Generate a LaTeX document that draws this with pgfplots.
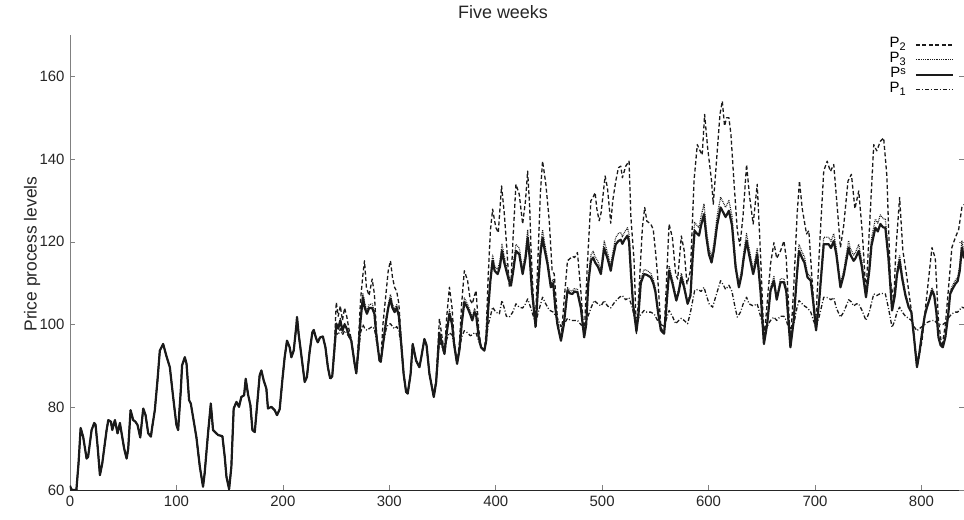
\documentclass[border=0pt]{standalone}
\usepackage{fontspec}
\setmainfont{Liberation Sans}
\usepackage{pgfplots}
\usepackage{pgfplotstable}
\pgfplotsset{compat=1.18}
\definecolor{lc}{HTML}{1A1A1A}
\definecolor{axgray}{HTML}{808080}
\newcommand{\lsub}[1]{\raisebox{-2.4bp}{\fontsize{11}{11}\selectfont #1}}
\newcommand{\lsup}[1]{\raisebox{3.3bp}{\fontsize{11}{11}\selectfont #1}}

% hours 0 .. 244.5: all four series coincide
\pgfplotstableread{
x y
0 61
1 60.3
2 60
6 60
8 66.4
10 75
12.4 72.8
15.6 67.6
17 68
20.3 74.5
22.8 76.2
24 75.8
26 70.4
28.1 63.6
30.3 66.4
32.1 70
34.4 74.5
36 76.9
38.5 76.5
39.7 74.5
42.2 76.9
44.7 73.7
46.9 76.2
48.5 73.7
50.9 70
53.2 67.6
54.7 70
56.9 79.3
59.4 76.9
61.5 76.5
63.5 75.7
66 72.7
68.8 79.7
71 78.1
73.5 73.7
76 72.9
77.3 75.3
79.7 79.3
82.2 86.5
84.4 93.7
87.5 95.3
90.7 92.3
93.8 89.7
96.9 82.5
100 75.7
101.6 74.5
104.1 84.1
105.3 90.1
107.9 92.1
109.5 90.5
111.9 81.7
113.5 80.9
115.7 77.5
118.8 72.7
122 65.6
125 60.8
126.5 64
129.7 73.7
132.3 80.9
134.4 74.5
139.1 73.3
143.2 73
145.4 68
147 63.2
149.5 60.2
151.6 65.6
153.8 79.7
156.4 81.3
158.8 80.1
161 82.5
163.6 82.9
165.1 86.9
167.3 83.1
169.5 80.5
171.4 74.5
173.6 74
175.8 80.5
178.2 87.7
179.8 88.9
182 86.5
184.5 84.5
186 79.7
189.2 80.1
192.3 79.3
194.5 78.1
197 79.5
199.5 86.5
201.7 92.1
203.9 96.1
206.4 94.5
208 92.1
210.2 93.7
212.7 99.8
213.3 101.8
214.8 97.8
217.6 92.1
220.5 86.1
222.6 87.3
225.1 93.3
227.7 98.1
229 98.7
231.2 96.7
232.8 95.7
235 96.9
237.6 97.1
240 94.5
242.3 89.7
244.5 86.9
}\common

% P^s from hour 244.5
\pgfplotstableread{
x y
244.5 86.9
246.4 87.5
248.6 94.5
250.2 100.2
252 99
254 101
256 98.5
258 100
260 99
262 97.5
264.3 96.1
267.4 90.6
269 88.2
271 94
273 101
275.2 106.6
277 104
279 102.6
281 104
283.9 104
286 102.6
288 97
290.8 91.3
292 91
294 95
297.1 101
299 104
301.1 106.2
303 104
305 103
307 104
309 102
311 96
313.5 88
315.8 83.7
317.3 83.3
320 88
322 95.3
325.2 91.3
328.3 89.7
330 92
333 96.5
335 95
337.7 88.1
341.8 82.5
344 86
347.1 97.8
349 96
351.8 92.9
354 98
356.5 102.6
359 100
361 95
363.7 90.5
366 94
368 100
370.5 105.4
373.6 104
376 102.5
378 101
380 103
381.5 102.5
384 97
386.2 94.5
389.3 93.7
391 96
393 104
395 110.6
397.1 115.4
399 113
401.8 112.2
404 114
405.9 117.8
408 115
410 113
412 111
414.3 109.4
416.5 113
419 117.8
422.1 117
425.3 112.2
428 116
430 121
432 116
434 108.2
437.5 99.5
440 110
442 117
444 121
446 118
448.7 114.6
451.8 109
454 110
456 104
458 100
461.3 96.1
464 100
467.4 108.2
470 107.5
472.1 107.4
474 108
476.8 107.8
480 104
483.1 96.9
485 100
487 110
489.4 115.4
491.5 116.2
493.4 115
496 114
498.8 112.2
501.9 118.5
505 116
508.1 113
510 116
512.8 119.4
515.3 120.2
517.5 120.5
519 119.5
521 120.5
523.8 121.5
525.3 120
526.9 113
529 105
532.2 98.4
534 102
536.3 110
539.4 112.2
542 112
545.7 111.4
548 110
550 108
552.5 103
555.2 98.6
558.2 97.8
560 103
562.9 113
566 110
569.7 105.8
572 108
574.4 111.4
577 109
580.3 105
583 107
585 116
586.9 122.7
589 122
591 121.5
593 124
595.7 126.7
598 121
600.3 117
602.8 115
605 118
608 124
611.3 128.3
614 127
616 126
619.1 127.5
622 124
625.4 113.8
628.5 109
631 112
633 116
635.7 120.2
638 117
641.9 112.2
643.5 114
645.7 117
648.8 108
652 95.3
655 100
658.2 108.2
661.4 110.6
664 106
667.6 110.2
670.8 110.2
673 108
676.9 94.5
680 101
683 112
685 117.8
688 116
690 115
693 111.4
696 110.6
698.5 105
701 98.6
704 106
708.2 119.4
712.9 119.4
715 118.5
717.6 120.2
720 117
723.9 109
727 112
731.6 118.6
733 117
736.3 115.4
738 116
741.1 117.8
744 114
747.9 106.6
751 113
753 119
756.7 123.4
759 122.5
761.4 124.3
764 123.5
766.1 123.4
769 116
772.4 103.4
775 107
777 112
779.5 115.4
782 111
785 107
788 104.2
790.5 103
793 97
795.8 89.7
798 93
800.5 97.8
803 102
805.2 104.2
807.5 106
809.9 108.2
812 107
814 103
816 96.9
818 95
820.1 94.5
822.5 97
825 102
827 107.4
829 108.5
831.8 109.8
834 110.5
836 113
838 118.6
840 116
}\ps

% P_3 from hour 244.5
\pgfplotstableread{
x y
244.5 86.9
246.4 87.5
248.6 94.5
250.2 100.5
252 99.2
254 101.5
256 98.7
258 100.4
260 99.3
262 97.6
264.3 96.1
267.4 90.6
269 88.2
271 94.2
273 101.6
275.2 107.6
277 105
279 103.3
281 104.8
283.9 105
286 103.3
288 97.3
290.8 91.3
292 91
294 95.3
297.1 101.7
299 104.8
301.1 107.3
303 104.9
305 103.7
307 104.8
309 102.6
311 96.2
313.5 88
315.8 83.7
317.3 83.3
320 88
322 95.3
325.2 91.3
328.3 89.7
330 92
333 96.5
335 95
337.7 88.1
341.8 82.5
344 86
347.1 98.3
349 96.3
351.8 92.9
354 98.4
356.5 103.6
359 100.5
361 95
363.7 90.5
366 94.2
368 100.6
370.5 106.4
373.6 104.9
376 103.2
378 101.6
380 103.8
381.5 103.2
384 97.2
386.2 94.5
389.3 93.7
391 96.2
393 104.6
395 111.6
397.1 116.8
399 114.2
401.8 113.3
404 115.3
405.9 119.4
408 116.4
410 114.2
412 112
414.3 110.3
416.5 114.2
419 119.4
422.1 118.5
425.3 113.3
428 117.4
430 122.9
432 117.4
434 108.9
437.5 99.5
440 110.9
442 118.5
444 122.9
446 119.6
448.7 115.9
451.8 109.8
454 110.9
456 104.4
458 100
461.3 96.1
464 100
467.4 108.9
470 108.2
472.1 108.1
474 108.7
476.8 108.5
480 104.4
483.1 96.9
485 100
487 110.9
489.4 116.8
491.5 117.7
493.4 116.4
496 115.3
498.8 113.3
501.9 120.2
505 117.4
508.1 114.2
510 117.4
512.8 121.1
515.3 122
517.5 122.3
519 121.2
521 122.3
523.8 123.4
525.3 121.8
526.9 114.2
529 105.5
532.2 98.4
534 102.2
536.3 110.9
539.4 113.3
542 113.1
545.7 112.4
548 110.9
550 108.7
552.5 103.3
555.2 98.6
558.2 97.8
560 103.3
562.9 114.2
566 110.9
569.7 106.3
572 108.7
574.4 112.4
577 109.8
580.3 105.5
583 107.6
585 117.4
586.9 124.7
589 124
591 123.4
593 126.2
595.7 129.1
598 122.9
600.3 118.5
602.8 116.4
605 119.6
608 126.2
611.3 130.8
614 129.4
616 128.3
619.1 130
622 126.2
625.4 115
628.5 109.8
631 113.1
633 117.4
635.7 122
638 118.5
641.9 113.3
643.5 115.3
645.7 118.5
648.8 108.7
652 95.3
655 100
658.2 108.9
661.4 111.6
664 106.5
667.6 111.1
670.8 111.1
673 108.7
676.9 94.5
680 101.1
683 113.1
685 119.4
688 117.4
690 116.4
693 112.4
696 111.5
698.5 105.5
701 98.6
704 106.5
708.2 121.1
712.9 121.1
715 120.1
717.6 122
720 118.5
723.9 109.8
727 113.1
731.6 120.3
733 118.5
736.3 116.8
738 117.4
741.1 119.4
744 115.3
747.9 107.2
751 114.2
753 120.7
756.7 125.5
759 124.5
761.4 126.5
764 125.6
766.1 125.5
769 117.4
772.4 103.7
775 107.6
777 113.1
779.5 116.8
782 112
785 107.6
788 104.6
790.5 103.3
793 97
795.8 89.7
798 93
800.5 97.8
803 102.2
805.2 104.6
807.5 106.5
809.9 108.9
812 107.6
814 103.3
816 96.9
818 95
820.1 94.5
822.5 97
825 102.2
827 108.1
829 109.3
831.8 110.7
834 111.4
836 114.2
838 120.3
840 117.4
}\pthree

% P_2 from hour 244.5
\pgfplotstableread{
x y
244.5 86.9
246.4 87.5
248.6 96
250.2 105.4
252 102
254 104.5
256 101
258 104
260 102
262 99
264.3 96.5
267.4 90.6
269 88.2
271 96
273 106
275.2 112
276.7 115.4
278.5 109
281 107
283.9 111
286 107.4
288 98
290.8 91.3
292 91
294 100
297.1 108
299 113
301.1 115.4
303 111.4
305 109
307 108
309 105
311 97
313.5 88
315.8 83.7
317.3 83.3
320 88
322 95.3
325.2 91.3
328.3 89.7
330 92
333 96.5
335 95
337.7 88.1
341.8 82.5
344 87
347.1 101.4
349 98
351.8 93
354 102
356.5 109
359 104
361 96
363.7 90.5
366 96
368 105
370.5 113
373.6 110.6
376 106
378 105
380 107
381.5 108.2
384 99
386.2 94.5
389.3 93.7
391 98
393 112
395 122.7
397.1 127.9
399 125
400.2 123.4
402.4 122.2
405.5 133.5
408 127
410 120
412.8 109
414.3 110
416.5 122
419 133.9
422.1 131.5
425.3 124.3
428 130
430 137.1
432 128
433.1 118.6
435 108
437.1 99.3
440 118
442 132
444 139.5
446 136
447.1 133.9
450.3 125.1
453 113
455 112.2
458.1 101
461.3 96.1
464 105
467.4 115.4
470 116
472.1 116.5
474 116.2
476.8 117.4
480 108
483.1 96.9
486 114
489.4 129.9
491.4 130.7
493.4 131.9
495 128
497.2 125.1
499 127
502.8 135.9
505 133
508.1 124.5
510 130
512.8 134.7
515.3 137.9
517.5 138.3
519 135.5
522.2 138.3
525.3 139.5
527 126
530 115.4
532.2 97.8
535 110
537.8 123.4
540 128.3
542 125
545.7 124.3
548 123
550 118
552 112.2
555.2 99.3
558.2 97.8
560 108
562.9 124.3
566 121
569.1 112.2
571 111
574.4 121.4
577 118
579.7 109.8
583 113
586.3 134.7
589.4 143.5
592 142
594 141
596.3 150.8
599 143
602.8 134.7
604.4 129.1
607 138
610.7 150.8
612.9 154
615 148
617 150
619.1 150
621 146
623.8 134.7
627 122.7
629.5 119
632.5 126.7
635.7 138.7
638.5 131
641.9 124.3
645.7 133.9
648.8 117
652 96.1
655 105
658.2 114.6
661.4 119.8
664 116
667.6 117.8
670.8 120.2
673 116
676.9 95.3
680 109
683.2 126.7
685.4 134.7
688 128
692 121.9
694.2 122.7
697.3 110.6
700.4 99.3
705.1 122.7
708.2 137.1
711.4 139.5
714.5 137
717.6 138.7
721 128
723.9 118.6
727 124
731 134.7
734.2 136.3
737.5 128
741.1 132.3
744.5 122
747.9 107.4
751.5 125
755.2 143.5
758 142
761.4 144.3
764.5 145.1
767.5 136
770.8 110.6
774 106
776 118
779.5 130.7
782.5 118
786 112
790.5 103.4
793 97
795.8 89.7
800.5 96
805.2 107.4
809.9 118.6
813 116
816 101
819.2 94.5
822.5 100
825.5 109
828.6 118.6
831.8 121
835 123
838 128.3
840 129
}\ptwo

% P_1 from hour 244.5
\pgfplotstableread{
x y
244.5 86.9
246.4 87.5
248.6 94
250.2 98
252 97.5
254 99
256 97.5
258 98.5
260 98
262 97
264.3 96
267.4 90.6
269 88.2
271 93
273 98
275.2 100
277 99
279 98.6
281 99
283.9 99.5
286 99
288 96
290.8 91.3
292 91
294 95
297.1 99
299 100
301.1 100.2
303 99.5
305 99
307 99.5
309 98.5
311 95
313.5 88
315.8 83.7
317.3 83.3
320 88
322 95.3
325.2 91.3
328.3 89.7
330 92
333 96.5
335 95
337.7 88.1
341.8 82.5
344 86
347.1 96
349 95
351.8 92.9
354 96.5
356.5 98
359 97.5
361 95
363.7 90.5
366 94
368 97
370.5 98.5
373.6 98
376 97.3
378 97.5
380 98
381.5 98
384 96
386.2 94.5
389.3 94
391 96
393 100
395 102
397.1 104.2
400 103
403.4 102.6
405.9 105.8
408 104
410 102
412.8 101.8
416 103
419 105
422.1 104.2
425.3 104
428 105
430 106.2
433 104
437.5 100.2
440 103
444 106.6
447 105
450.3 103.5
454 103
458 101.5
461.3 99.5
464 100
467.4 101.5
470.5 101
474 101
476.8 101
480 100
483.1 99.3
486 101.5
489.8 104.2
492.5 105.8
496 105
499 104.5
501.9 105.8
505 104.5
508 104
512 105.5
516.3 106.6
519 107
522 106
525.3 106.5
528.4 104
531.6 100.2
535 102
539.4 103.4
542 103
545.7 103
549 102.5
552 101
555.2 100
558.2 99.6
560 101
562.9 103.4
566 102
569.1 100.2
572 101
574.4 101.5
577 101
580.3 100.2
583 103
586.9 108.2
590 108.5
593 108
595.7 109
598 107
600.5 105
603.8 104.2
607 107
611.3 110.6
614 109.5
616 108.5
619.1 109.5
622 108
625 104
627 101.8
630 103
632.5 105
635.7 106.6
638 105
641.9 104.5
645.7 105
648.8 102
652 98.6
655 99.5
658.2 101
661.4 101.8
664 101
667.6 102
670.8 102
673 101
676.9 97.8
680 100
683 104
685 105.8
688 105
690 104.5
693 104
696 103
698.5 101
701 99.3
704 102
708.2 106.6
712 106.5
715 106
717.6 106.5
720 104
723.9 101.8
727 103
731.6 106
734 105.5
736.3 104.5
739 105
741.1 105
744 103.5
747.9 101
751 103
755.2 107.4
758 107
761.4 107.5
764 107.5
766.1 107.4
769 104
772.4 99.3
775 101
777 103
779.5 104.2
782 103
785 102
788 101.5
790.5 101
793 99.5
795.8 98.5
798 99
800.5 99.5
803 100
805.2 100.5
809.9 101
812 101
816 100
820.1 100
822.5 100.5
825 101.5
828.6 102.6
831.8 103
834 103
838 104.2
840 104
}\pone

\begin{document}
\begin{tikzpicture}[x=1bp,y=1bp]
\useasboundingbox (-70,-30) rectangle (894,490);
\begin{axis}[
  at={(0,0)}, anchor=south west,
  scale only axis, width=894bp, height=455bp,
  xmin=0, xmax=840, ymin=60, ymax=170,
  axis x line*=bottom, axis y line*=left,
  x axis line style={draw=black!85, -, line width=0.8bp},
  y axis line style={draw=axgray, -, line width=0.8bp},
  xtick={0,100,...,800}, ytick={60,80,...,160},
  tick align=inside, major tick length=5bp,
  tick style={draw=axgray, line width=0.6bp},
  ticklabel style={font=\fontsize{15}{17}\selectfont, text=black!85},
  xticklabel style={yshift=-3bp},
  yticklabel style={xshift=-2bp},
  /pgf/number format/assume math mode=true,
  clip=true,
  legend cell align=right,
  legend plot pos=right,
  legend style={at={(rel axis cs:0.989,0.995)}, anchor=north east,
    draw=none, fill=none, font=\fontsize{15}{14}\selectfont,
    row sep=0bp, column sep=9bp, inner sep=0pt,
    nodes={inner sep=0bp, text height=10.5bp, text depth=4.4bp}},
  legend image code/.code={\draw[#1] (0bp,0bp) -- (37bp,0bp);},
  every axis plot/.append style={line join=round},
]
% P_2
\addplot[lc, line width=1.3bp, dash pattern=on 4bp off 2.5bp, forget plot] table {\common};
\addplot[lc, line width=1.3bp, dash pattern=on 4bp off 2.5bp] table {\ptwo};
\addlegendentry{P\lsub{2}}
% P_3
\addplot[lc, line width=1.2bp, dash pattern=on 0.8bp off 1bp, forget plot] table {\common};
\addplot[lc, line width=1.2bp, dash pattern=on 0.8bp off 1bp] table {\pthree};
\addlegendentry{P\lsub{3}}
% P^s
\addplot[lc, line width=2.2bp, forget plot] table {\common};
\addplot[lc, line width=2.2bp] table {\ps};
\addlegendentry{P\lsup{s}}
% P_1
\addplot[lc, line width=1.3bp, dash pattern=on 4bp off 2bp on 1bp off 2bp, forget plot] table {\common};
\addplot[lc, line width=1.3bp, dash pattern=on 4bp off 2bp on 1bp off 2bp] table {\pone};
\addlegendentry{P\lsub{1}}
\end{axis}
\begin{axis}[
  at={(0,0)}, anchor=south west,
  scale only axis, width=894bp, height=455bp,
  xmin=0, xmax=840, ymin=60, ymax=170,
  axis y line*=right, hide x axis,
  y axis line style={draw=none},
  ytick={60,80,...,160}, yticklabels={},
  tick align=inside, major tick length=5bp,
  tick style={draw=axgray, line width=0.6bp},
]
\end{axis}
\node[font=\fontsize{18}{20}\selectfont, text=black!85] at (433,478) {Five weeks};
\node[rotate=90, font=\fontsize{17.5}{20}\selectfont, text=black!85] at (-38,236) {Price process levels};
\end{tikzpicture}
\end{document}
